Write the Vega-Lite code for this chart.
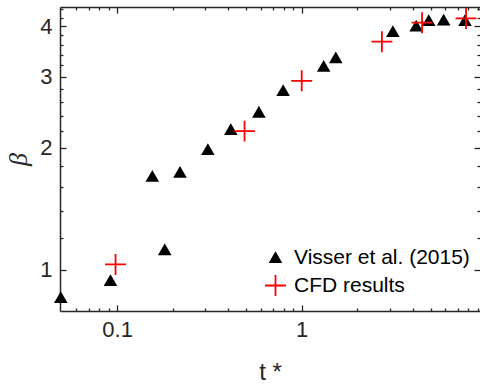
{
  "$schema": "https://vega.github.io/schema/vega-lite/v6.json",
  "autosize": {"type": "none"},
  "padding": {"left": 60, "top": 7, "right": 0, "bottom": 74},
  "width": 420,
  "height": 304,
  "background": "white",
  "data": {"values": [
    {"series": "Visser et al. (2015)", "t": 0.0495, "beta": 0.853},
    {"series": "Visser et al. (2015)", "t": 0.092, "beta": 0.94},
    {"series": "Visser et al. (2015)", "t": 0.155, "beta": 1.70},
    {"series": "Visser et al. (2015)", "t": 0.181, "beta": 1.12},
    {"series": "Visser et al. (2015)", "t": 0.219, "beta": 1.74},
    {"series": "Visser et al. (2015)", "t": 0.31, "beta": 1.98},
    {"series": "Visser et al. (2015)", "t": 0.413, "beta": 2.22},
    {"series": "Visser et al. (2015)", "t": 0.586, "beta": 2.45},
    {"series": "Visser et al. (2015)", "t": 0.793, "beta": 2.77},
    {"series": "Visser et al. (2015)", "t": 1.315, "beta": 3.18},
    {"series": "Visser et al. (2015)", "t": 1.53, "beta": 3.34},
    {"series": "Visser et al. (2015)", "t": 3.12, "beta": 3.88},
    {"series": "Visser et al. (2015)", "t": 4.17, "beta": 4.0},
    {"series": "Visser et al. (2015)", "t": 4.88, "beta": 4.13},
    {"series": "Visser et al. (2015)", "t": 5.88, "beta": 4.14},
    {"series": "Visser et al. (2015)", "t": 7.67, "beta": 4.13},
    {"series": "CFD results", "t": 0.098, "beta": 1.03},
    {"series": "CFD results", "t": 0.49, "beta": 2.2},
    {"series": "CFD results", "t": 1.0, "beta": 2.93},
    {"series": "CFD results", "t": 2.72, "beta": 3.66},
    {"series": "CFD results", "t": 4.49, "beta": 4.08},
    {"series": "CFD results", "t": 7.77, "beta": 4.18}
  ]},
  "layer": [
    {
      "mark": {"type": "point", "filled": true, "opacity": 1, "strokeWidth": 1.8},
      "encoding": {
        "x": {"field": "t", "type": "quantitative",
          "scale": {"type": "log", "domain": [0.049, 9.25], "nice": false},
          "axis": {"orient": "bottom", "values": [0.1, 1], "labelExpr": "datum.value >= 1 ? '1' : '0.1'", "title": "t *", "tickSize": -6, "labelPadding": 14, "titlePadding": 20, "labelFlush": false}},
        "y": {"field": "beta", "type": "quantitative",
          "scale": {"type": "log", "domain": [0.79, 4.46], "nice": false},
          "axis": {"orient": "left", "values": [1, 2, 3, 4], "labelExpr": "format(datum.value, 'd')", "title": "β", "tickSize": -6, "labelPadding": 14, "titlePadding": 8, "titleFont": "Liberation Serif", "titleFontStyle": "italic", "titleFontWeight": "normal", "titleFontSize": 26, "labelFlush": false}},
        "color": {"field": "series", "type": "nominal",
          "scale": {"domain": ["Visser et al. (2015)", "CFD results"], "range": ["#000000", "#ff0000"]},
          "legend": {"title": null, "orient": "none", "legendX": 204, "legendY": 240, "padding": 0, "rowPadding": 3, "labelOffset": 7, "labelLimit": 400, "labelFontSize": 21, "labelFont": "Liberation Sans", "labelColor": "#000000", "symbolStrokeWidth": 1.8}},
        "stroke": {"field": "series", "type": "nominal",
          "scale": {"domain": ["Visser et al. (2015)", "CFD results"], "range": ["#000000", "#ff0000"]},
          "legend": {"title": null}},
        "shape": {"field": "series", "type": "nominal",
          "scale": {"domain": ["Visser et al. (2015)", "CFD results"], "range": ["triangle-up", "M-1,0L1,0M0,-1L0,1"]},
          "legend": {"title": null}},
        "size": {"field": "series", "type": "nominal",
          "scale": {"domain": ["Visser et al. (2015)", "CFD results"], "range": [110, 440]},
          "legend": {"title": null}}
      }
    },
    {
      "mark": {"type": "point", "opacity": 0},
      "encoding": {
        "x": {"field": "t", "type": "quantitative",
          "scale": {"type": "log", "domain": [0.049, 9.25], "nice": false},
          "axis": {"orient": "bottom", "values": [0.06, 0.07, 0.08, 0.09, 0.2, 0.3, 0.4, 0.5, 0.6, 0.7, 0.8, 0.9, 2, 3, 4, 5, 6, 7, 8, 9], "labels": false, "title": null, "tickSize": -3, "domain": false}},
        "y": {"field": "beta", "type": "quantitative",
          "scale": {"type": "log", "domain": [0.79, 4.46], "nice": false},
          "axis": {"orient": "left", "values": [1.2, 1.4, 1.6, 1.8, 2.2, 2.4, 2.6, 2.8, 3.2, 3.4, 3.6, 3.8, 4.2, 4.4], "labels": false, "title": null, "tickSize": -3, "domain": false}}
      }
    },
    {
      "mark": {"type": "point", "opacity": 0},
      "encoding": {
        "x": {"field": "t", "type": "quantitative",
          "scale": {"type": "log", "domain": [0.049, 9.25], "nice": false},
          "axis": {"orient": "top", "values": [0.1, 1], "labels": false, "title": null, "tickSize": -6, "domain": true}},
        "y": {"field": "beta", "type": "quantitative",
          "scale": {"type": "log", "domain": [0.79, 4.46], "nice": false},
          "axis": {"orient": "right", "values": [1, 2, 3, 4], "labels": false, "title": null, "tickSize": -6, "domain": false}}
      }
    },
    {
      "mark": {"type": "point", "opacity": 0},
      "encoding": {
        "x": {"field": "t", "type": "quantitative",
          "scale": {"type": "log", "domain": [0.049, 9.25], "nice": false},
          "axis": {"orient": "top", "values": [0.06, 0.07, 0.08, 0.09, 0.2, 0.3, 0.4, 0.5, 0.6, 0.7, 0.8, 0.9, 2, 3, 4, 5, 6, 7, 8, 9], "labels": false, "title": null, "tickSize": -3, "domain": false}},
        "y": {"field": "beta", "type": "quantitative",
          "scale": {"type": "log", "domain": [0.79, 4.46], "nice": false},
          "axis": {"orient": "right", "values": [1.2, 1.4, 1.6, 1.8, 2.2, 2.4, 2.6, 2.8, 3.2, 3.4, 3.6, 3.8, 4.2, 4.4], "labels": false, "title": null, "tickSize": -3, "domain": false}}
      }
    }
  ],
  "resolve": {"axis": {"x": "independent", "y": "independent"}},
  "config": {
    "view": {"stroke": null},
    "axis": {
      "grid": false,
      "domainColor": "#262626",
      "domainWidth": 1.5,
      "tickColor": "#262626",
      "tickWidth": 1.3,
      "labelColor": "#262626",
      "labelFont": "Liberation Sans",
      "labelFontSize": 22,
      "titleColor": "#262626",
      "titleFont": "Liberation Sans",
      "titleFontSize": 24,
      "titleFontWeight": "normal"
    }
  }
}
